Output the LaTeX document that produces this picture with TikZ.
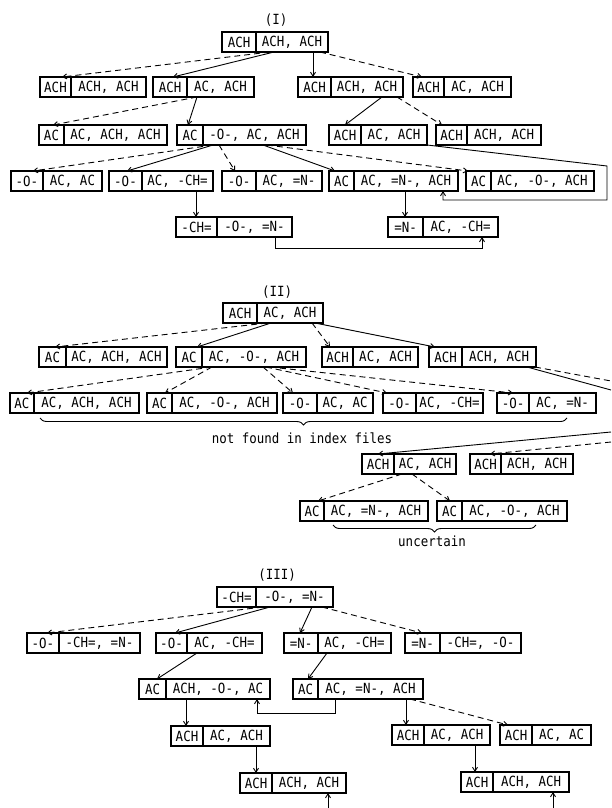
\documentclass[tikz,border=0pt]{standalone}
\usepackage{fontspec}
\setmonofont{DejaVu Sans Mono}
\usetikzlibrary{arrows.meta, decorations.pathreplacing}

\tikzset{
    cell/.style={draw, line width=1.1pt, inner sep=0pt, outer sep=0pt,
        minimum height=20pt, font=\ttfamily\fontsize{14}{16}\selectfont},
    link/.style={line width=0.9pt, -{Straight Barb[length=4pt,width=5pt]}},
    alt/.style={link, dash pattern=on 6pt off 4pt},
    heading/.style={font=\ttfamily\fontsize{14}{16}\selectfont},
    under/.style={line width=0.9pt, decorate,
        decoration={brace, mirror, amplitude=7pt}},
}

\newcommand{\narrow}[1]{\scalebox{0.89}[1]{#1}}

% name, left x, divider x, right x, top y, key, rest
\newcommand{\molbox}[7]{%
    \node[cell, anchor=north west, minimum width={#3-#2}] (#1h) at (#2,#5) {\narrow{#6}};
    \node[cell, anchor=north west, minimum width={#4-#3}] (#1) at (#3,#5) {\narrow{#7}};
}

\begin{document}
\begin{tikzpicture}[x=1pt, y=-1pt]
    \useasboundingbox (0,0) rectangle (611,808);

    % (I)
    \node[heading] (t1) at (276,20) {\narrow{(I)}};
    \molbox{r1}{222}{256}{328}{32}{ACH}{ACH, ACH}
    \molbox{a1}{40}{71}{146}{77}{ACH}{ACH, ACH}
    \molbox{b1}{153}{187}{254}{77}{ACH}{AC, ACH}
    \molbox{c1}{298}{331}{403}{77}{ACH}{ACH, ACH}
    \molbox{d1}{413}{444}{511}{77}{ACH}{AC, ACH}
    \molbox{e1}{39}{64}{167}{125}{AC}{AC, ACH, ACH}
    \molbox{f1}{177}{203}{306}{125}{AC}{-O-, AC, ACH}
    \molbox{g1}{329}{361}{427}{125}{ACH}{AC, ACH}
    \molbox{h1}{436}{467}{541}{125}{ACH}{ACH, ACH}
    \molbox{i1}{11}{43}{102}{171}{-O-}{AC, AC}
    \molbox{j1}{109}{142}{213}{171}{-O-}{AC, -CH=}
    \molbox{k1}{222}{256}{322}{171}{-O-}{AC, =N-}
    \molbox{l1}{329}{354}{458}{171}{AC}{AC, =N-, ACH}
    \molbox{m1}{466}{491}{594}{171}{AC}{AC, -O-, ACH}
    \molbox{n1}{176}{217}{292}{217}{-CH=}{-O-, =N-}
    \molbox{o1}{388}{423}{498}{217}{=N-}{AC, -CH=}

    \draw[alt] (270,0 |- r1.south) -- (62,0 |- a1.north);
    \draw[link] (274,0 |- r1.south) -- (173,0 |- b1.north);
    \draw[link] (313,0 |- r1.south) -- (313,0 |- c1.north);
    \draw[alt] (320,0 |- r1.south) -- (422,0 |- d1.north);
    \draw[alt] (197,0 |- b1.south) -- (53,0 |- e1.north);
    \draw[link] (197,0 |- b1.south) -- (188,0 |- f1.north);
    \draw[link] (382,0 |- c1.south) -- (345,0 |- g1.north);
    \draw[alt] (397,0 |- c1.south) -- (442,0 |- h1.north);
    \draw[alt] (213,0 |- f1.south) -- (33,0 |- i1.north);
    \draw[link] (213,0 |- f1.south) -- (127,0 |- j1.north);
    \draw[alt] (219,0 |- f1.south) -- (235,0 |- k1.north);
    \draw[link] (263,0 |- f1.south) -- (335,0 |- l1.north);
    \draw[alt] (267,0 |- f1.south) -- (468,0 |- m1.north);
    \draw[link] (196,0 |- j1.south) -- (196,0 |- n1.north);
    \draw[link] (405,0 |- l1.south) -- (405,0 |- o1.north);
    \draw[link] (g1.south east) -- (607,166) |- (443,200) -- (443,0 |- l1.south);
    \draw[link, {Straight Barb[length=4pt,width=5pt]}-] (482,0 |- o1.south) -- (482,248) -| (275,0 |- n1.south);

    % (II)
    \node[heading] (t2) at (277,292) {\narrow{(II)}};
    \molbox{r2}{223}{257}{323}{303}{ACH}{AC, ACH}
    \molbox{a2}{39}{66}{167}{347}{AC}{AC, ACH, ACH}
    \molbox{b2}{176}{202}{306}{347}{AC}{AC, -O-, ACH}
    \molbox{c2}{322}{353}{418}{347}{ACH}{AC, ACH}
    \molbox{d2}{429}{462}{536}{347}{ACH}{ACH, ACH}
    \molbox{e2}{10}{34}{139}{393}{AC}{AC, ACH, ACH}
    \molbox{f2}{147}{172}{277}{393}{AC}{AC, -O-, ACH}
    \molbox{g2}{283}{317}{373}{393}{-O-}{AC, AC}
    \molbox{h2}{383}{416}{483}{393}{-O-}{AC, -CH=}
    \molbox{i2}{497}{529}{596}{393}{-O-}{AC, =N-}
    \molbox{j2}{362}{394}{456}{454}{ACH}{AC, ACH}
    \molbox{k2}{470}{501}{573}{454}{ACH}{ACH, ACH}
    \molbox{l2}{300}{324}{428}{501}{AC}{AC, =N-, ACH}
    \molbox{m2}{437}{462}{567}{501}{AC}{AC, -O-, ACH}

    \coordinate (d2out) at (611,390);
    \coordinate (d2outd) at (611,381);
    \coordinate (j2in) at (611,432);
    \coordinate (k2in) at (611,442);

    \draw[alt] (267,0 |- r2.south) -- (55,0 |- a2.north);
    \draw[link] (271,0 |- r2.south) -- (197,0 |- b2.north);
    \draw[alt] (312,0 |- r2.south) -- (330,0 |- c2.north);
    \draw[link] (315,0 |- r2.south) -- (435,0 |- d2.north);
    \draw[alt] (212,0 |- b2.south) -- (27,0 |- e2.north);
    \draw[alt] (212,0 |- b2.south) -- (165,0 |- f2.north);
    \draw[alt] (263,0 |- b2.south) -- (293,0 |- g2.north);
    \draw[alt] (266,0 |- b2.south) -- (387,0 |- h2.north);
    \draw[alt] (270,0 |- b2.south) -- (513,0 |- i2.north);
    \draw[line width=0.9pt] (527,0 |- d2.south) -- (d2out);
    \draw[line width=0.9pt, dash pattern=on 6pt off 4pt] (535,0 |- d2.south) -- (d2outd);
    \draw[link] (j2in) -- (378,0 |- j2.north);
    \draw[alt] (k2in) -- (490,0 |- k2.north);
    \draw[alt] (402,0 |- j2.south) -- (318,0 |- l2.north);
    \draw[alt] (412,0 |- j2.south) -- (450,0 |- m2.north);

    \draw[under] (40,418) -- (567,418);
    \node[heading] (nf) at (302,438) {\narrow{not found in index files}};
    \draw[under] (333,525) -- (536,525);
    \node[heading] (unc) at (432,541) {\narrow{uncertain}};

    % (III)
    \node[heading] (t3) at (277,575) {\narrow{(III)}};
    \molbox{r3}{217}{256}{333}{587}{-CH=}{-O-, =N-}
    \molbox{a3}{27}{59}{140}{633}{-O-}{-CH=, =N-}
    \molbox{b3}{156}{187}{262}{633}{-O-}{AC, -CH=}
    \molbox{c3}{284}{318}{391}{633}{=N-}{AC, -CH=}
    \molbox{d3}{405}{440}{521}{633}{=N-}{-CH=, -O-}
    \molbox{e3}{139}{166}{270}{679}{AC}{ACH, -O-, AC}
    \molbox{f3}{293}{318}{423}{679}{AC}{AC, =N-, ACH}
    \molbox{g3}{171}{203}{270}{726}{ACH}{AC, ACH}
    \molbox{h3}{392}{424}{490}{725}{ACH}{AC, ACH}
    \molbox{i3}{500}{532}{591}{725}{ACH}{AC, AC}
    \molbox{j3}{240}{272}{346}{773}{ACH}{ACH, ACH}
    \molbox{k3}{461}{493}{569}{772}{ACH}{ACH, ACH}

    \coordinate (j3in) at (328,808);
    \coordinate (k3in) at (553,808);

    \draw[alt] (263,0 |- r3.south) -- (47,0 |- a3.north);
    \draw[link] (270,0 |- r3.south) -- (175,0 |- b3.north);
    \draw[link] (312,0 |- r3.south) -- (300,0 |- c3.north);
    \draw[alt] (322,0 |- r3.south) -- (422,0 |- d3.north);
    \draw[link] (197,0 |- b3.south) -- (157,0 |- e3.north);
    \draw[link] (327,0 |- c3.south) -- (308,0 |- f3.north);
    \draw[link] (186,0 |- e3.south) -- (186,0 |- g3.north);
    \draw[link] (406,0 |- f3.south) -- (406,0 |- h3.north);
    \draw[alt] (410,0 |- f3.south) -- (508,0 |- i3.north);
    \draw[link] (256,0 |- g3.south) -- (256,0 |- j3.north);
    \draw[link] (475,0 |- h3.south) -- (475,0 |- k3.north);
    \draw[link, {Straight Barb[length=4pt,width=5pt]}-] (257,0 |- e3.south) -- (257,713) -| (335,0 |- f3.south);
    \draw[link] (j3in) -- (328,0 |- j3.south);
    \draw[link] (k3in) -- (553,0 |- k3.south);
\end{tikzpicture}
\end{document}
